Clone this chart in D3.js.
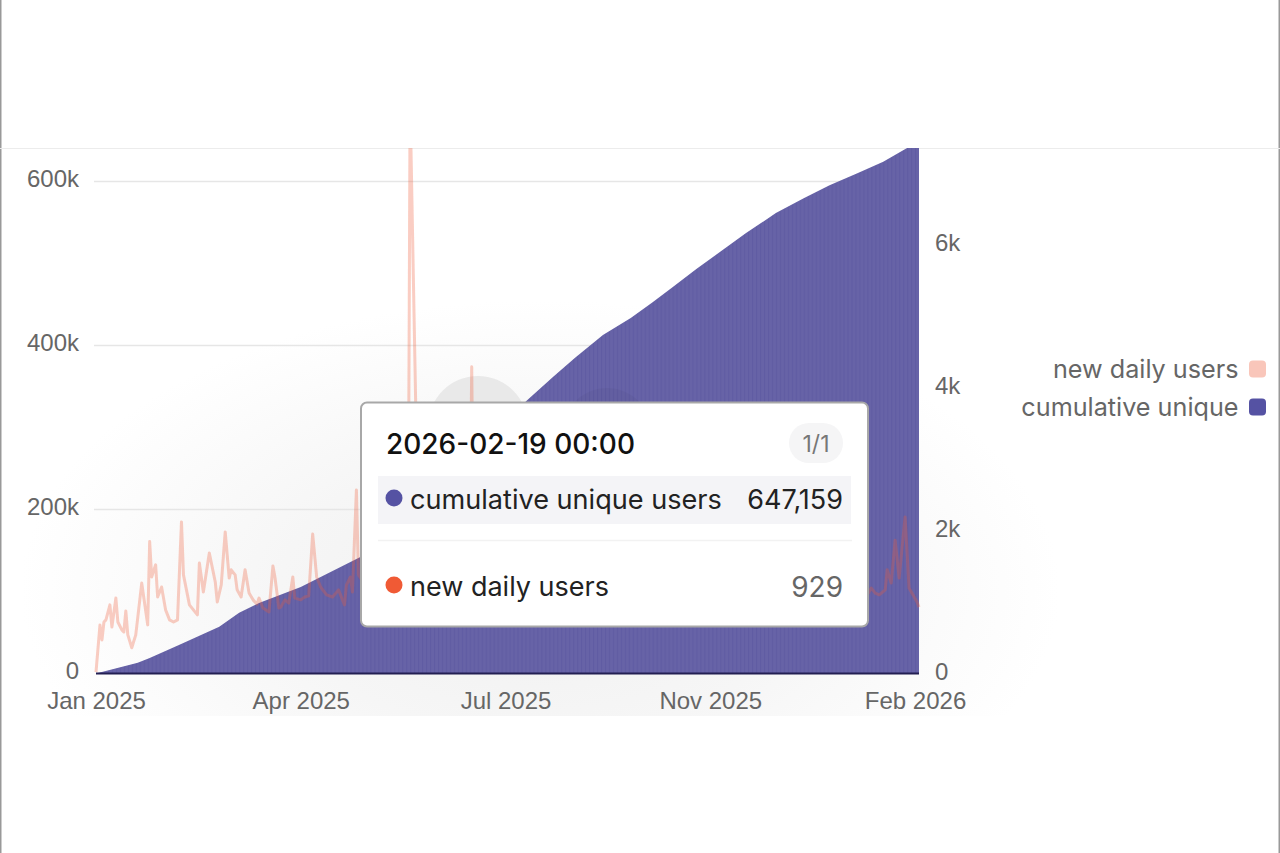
<!DOCTYPE html>
<html>
<head>
<meta charset="utf-8">
<script src="https://d3js.org/d3.v7.min.js"></script>
<style>
  body { margin: 0; background: #fff; }
  svg { display: block; }
  .axis text { font-family: "Liberation Sans", Arial, sans-serif; font-size: 24px; fill: #666; }
  .axis path, .axis line { display: none; }
  .soft { font-family: Inter, sans-serif; }
</style>
</head>
<body>
<svg id="chart" width="1280" height="853"></svg>
<script>
// days since 2025-01-01
const startDate = new Date(2025, 0, 1);

const cumulativeDays = [0, 21, 27, 42, 62, 72, 82, 103, 133, 217, 230, 241, 255, 269, 280, 290, 302, 314, 327, 342, 356, 369, 383, 396, 408, 414];
const cumulativeUsers = [0, 13000, 19000, 35000, 57000, 74000, 86000, 105500, 142000, 333500, 362000, 385000, 412800, 433500, 453000, 471000, 493500, 514400, 537200, 561600, 579800, 595700, 610300, 624100, 641000, 647159];

const newDays = [0, 2, 3, 4, 5, 7, 8, 10, 11, 13, 14, 15, 16, 18, 20, 23, 26, 27, 28, 30, 31, 33, 35, 37, 39, 41, 43, 44, 46, 47, 51, 52, 54, 57, 60, 61, 63, 65, 67, 68, 70, 71, 73, 75, 77, 79, 81, 82, 84, 87, 89, 90, 92, 93, 95, 97, 99, 100, 103, 105, 107, 109, 111, 113, 116, 119, 122, 125, 126, 128, 129, 131, 132,
  134, 140, 146, 152, 157, 158, 161, 163, 170, 178, 185, 188, 189, 190, 198, 210, 225, 240, 255, 270, 285, 300, 315, 330, 345, 360, 375, 388,
  390, 392, 394, 397, 398, 400, 402, 404, 407, 409, 413, 414];
const newUsers = [20, 680, 470, 720, 750, 960, 650, 1055, 720, 610, 580, 875, 540, 360, 540, 1265, 680, 1845, 1350, 1520, 1070, 1210, 890, 750, 720, 750, 2120, 1380, 1100, 960, 820, 1545, 1140, 1685, 1280, 1000, 1240, 1980, 1335, 1450, 1380, 1170, 1070, 1450, 1125, 1030, 970, 1055, 915, 860, 1505, 1350, 915, 930, 1030, 985, 1350, 1055, 1030, 1070, 1085, 1950, 1350, 1210, 1100, 1070, 1170, 960, 1240, 1350, 1140, 2565, 1380,
  1300, 1500, 1250, 1600, 1200, 8000, 3500, 1500, 1400, 1700, 1350, 1500, 4290, 1500, 1300, 1450, 1200, 1400, 1150, 1300, 1100, 1250, 1050, 1150, 1000, 1100, 1000, 1100,
  1195, 1125, 1100, 1170, 1450, 1265, 1865, 1335, 2190, 1195, 1000, 929];

const xTickDays = [0, 103, 206, 309, 412];
const xTickLabels = ["Jan 2025", "Apr 2025", "Jul 2025", "Nov 2025", "Feb 2026"];
const leftTicks = [0, 200000, 400000, 600000];
const rightTicks = [0, 2000, 4000, 6000];

const blue = "#5552a3";
const orange = "#f05a35";

const dayToDate = d => d3.timeDay.offset(startDate, d);

const svg = d3.select("#chart");

const x = d3.scaleTime().domain([startDate, dayToDate(414)]).range([96, 919]);
const yLeft = d3.scaleLinear().domain([0, 641000]).range([673.5, 148]);
const yRight = d3.scaleLinear().domain([0, 7350]).range([673.5, 148]);

const defs = svg.append("defs");

defs.append("clipPath").attr("id", "plot")
  .append("rect").attr("x", 0).attr("y", 148).attr("width", 1280).attr("height", 530);
defs.append("clipPath").attr("id", "shadowClip")
  .append("rect").attr("x", 0).attr("y", 149).attr("width", 1280).attr("height", 567);

// soft shadow of the tooltip, the photo has it low and faint
const glow = defs.append("radialGradient").attr("id", "glow");
glow.append("stop").attr("offset", "0%").attr("stop-color", "#f0f0f0");
glow.append("stop").attr("offset", "50%").attr("stop-color", "#f6f6f6");
glow.append("stop").attr("offset", "100%").attr("stop-color", "#ffffff");

// the line is blurred in the photo
defs.append("filter").attr("id", "soften")
  .attr("x", "-5%").attr("y", "-5%").attr("width", "110%").attr("height", "110%")
  .append("feGaussianBlur").attr("stdDeviation", 0.6);

// faint vertical bars inside the area
const stripes = defs.append("pattern").attr("id", "stripes")
  .attr("patternUnits", "userSpaceOnUse").attr("x", 96).attr("y", 0)
  .attr("width", 3.976).attr("height", 10);
stripes.append("rect").attr("width", 3.976).attr("height", 10).attr("fill", "#6763a7");
stripes.append("rect").attr("width", 1.2).attr("height", 10).attr("fill", "#605ca3");

svg.append("g").attr("clip-path", "url(#shadowClip)")
  .append("ellipse")
  .attr("cx", 540).attr("cy", 590).attr("rx", 520).attr("ry", 290)
  .attr("fill", "url(#glow)");

// frame of the photographed page
svg.append("rect").attr("x", 0).attr("y", 0).attr("width", 1.5).attr("height", 853).attr("fill", "#999");
svg.append("rect").attr("x", 1278.5).attr("y", 0).attr("width", 1.5).attr("height", 853).attr("fill", "#999");
svg.append("rect").attr("x", 0).attr("y", 148).attr("width", 1280).attr("height", 1).attr("fill", "#ececec");

// gridlines
svg.append("g").selectAll("line")
  .data(leftTicks.slice(1))
  .join("line")
  .attr("x1", 94).attr("x2", 919)
  .attr("y1", d => yLeft(d)).attr("y2", d => yLeft(d))
  .attr("stroke", "#e6e6e6").attr("stroke-width", 1.5);

const plot = svg.append("g").attr("clip-path", "url(#plot)");

// hover circle behind the tooltip
plot.append("circle").attr("cx", 478).attr("cy", 426).attr("r", 50).attr("fill", "#e9e9e9");

const area = d3.area()
  .x((d, i) => x(dayToDate(cumulativeDays[i])))
  .y0(yLeft(0))
  .y1(d => yLeft(d));

plot.append("path").datum(cumulativeUsers)
  .attr("d", area)
  .attr("fill", "url(#stripes)");

plot.append("circle").attr("cx", 607).attr("cy", 433).attr("r", 45).attr("fill", "#000").attr("opacity", 0.035);

const line = d3.line()
  .x((d, i) => x(dayToDate(newDays[i])))
  .y(d => yRight(d));

plot.append("g").attr("filter", "url(#soften)")
  .append("path").datum(newUsers)
  .attr("d", line)
  .attr("fill", "none")
  .attr("stroke", orange)
  .attr("stroke-opacity", 0.3)
  .attr("stroke-width", 3)
  .attr("stroke-linejoin", "round");

// baseline
svg.append("line")
  .attr("x1", x(startDate)).attr("x2", x(dayToDate(414)))
  .attr("y1", yLeft(0)).attr("y2", yLeft(0))
  .attr("stroke", "#231f52").attr("stroke-width", 2);

// axes
const kFormat = d => d === 0 ? "0" : (d / 1000) + "k";

svg.append("g").attr("class", "axis")
  .attr("transform", "translate(79,-3)")
  .call(d3.axisLeft(yLeft).tickValues(leftTicks).tickFormat(kFormat).tickSize(0).tickPadding(0));

svg.append("g").attr("class", "axis")
  .attr("transform", "translate(935,-2)")
  .call(d3.axisRight(yRight).tickValues(rightTicks).tickFormat(kFormat).tickSize(0).tickPadding(0));

svg.append("g").attr("class", "axis")
  .attr("transform", "translate(0,692)")
  .call(d3.axisBottom(x).tickValues(xTickDays.map(dayToDate)).tickFormat((d, i) => xTickLabels[i]).tickSize(0).tickPadding(0));

// legend
const legendNames = ["new daily users", "cumulative unique"];
const legendColors = ["#f9c6ba", blue];
const legendY = [369, 407];
const legend = svg.append("g").selectAll("g").data(legendNames).join("g");
legend.append("text")
  .attr("class", "soft")
  .attr("x", 1238.5).attr("y", (d, i) => legendY[i])
  .attr("dy", "0.36em")
  .attr("text-anchor", "end")
  .attr("font-size", 25.2)
  .attr("fill", "#666")
  .text(d => d);
legend.append("rect")
  .attr("x", 1249).attr("y", (d, i) => legendY[i] - 8.5)
  .attr("width", 17).attr("height", 17).attr("rx", 4)
  .attr("fill", (d, i) => legendColors[i]);

// tooltip
const tip = svg.append("g");
const tipText = (txt, tx, ty, size, color, anchor) => tip.append("text")
  .attr("class", "soft")
  .attr("x", tx).attr("y", ty).attr("dy", "0.35em")
  .attr("font-size", size).attr("fill", color)
  .attr("text-anchor", anchor || "start")
  .text(txt);

tip.append("rect").attr("x", 361).attr("y", 402.5).attr("width", 507).attr("height", 224).attr("rx", 6)
  .attr("fill", "#fff").attr("stroke", "#a8a8a8").attr("stroke-width", 2);
tip.append("rect").attr("x", 378).attr("y", 476).attr("width", 473).attr("height", 48).attr("fill", "#f4f4f7");
tip.append("line").attr("x1", 378).attr("x2", 852).attr("y1", 540.5).attr("y2", 540.5).attr("stroke", "#f2f2f2").attr("stroke-width", 1.5);
tip.append("rect").attr("x", 789).attr("y", 423).attr("width", 54).attr("height", 40).attr("rx", 20).attr("fill", "#f5f5f6");
tip.append("circle").attr("cx", 394).attr("cy", 498).attr("r", 8.5).attr("fill", blue);
tip.append("circle").attr("cx", 394).attr("cy", 585).attr("r", 8.5).attr("fill", orange);

tipText("2026-02-19 00:00", 386, 444, 28, "#111").attr("font-weight", 500);
tipText("1/1", 816, 444, 23, "#777", "middle");
tipText("cumulative unique users", 410, 500, 27.1, "#222");
tipText("647,159", 843, 500, 27, "#222", "end");
tipText("new daily users", 410, 587, 27, "#222");
tipText("929", 843, 587, 28, "#666", "end");
</script>
</body>
</html>
